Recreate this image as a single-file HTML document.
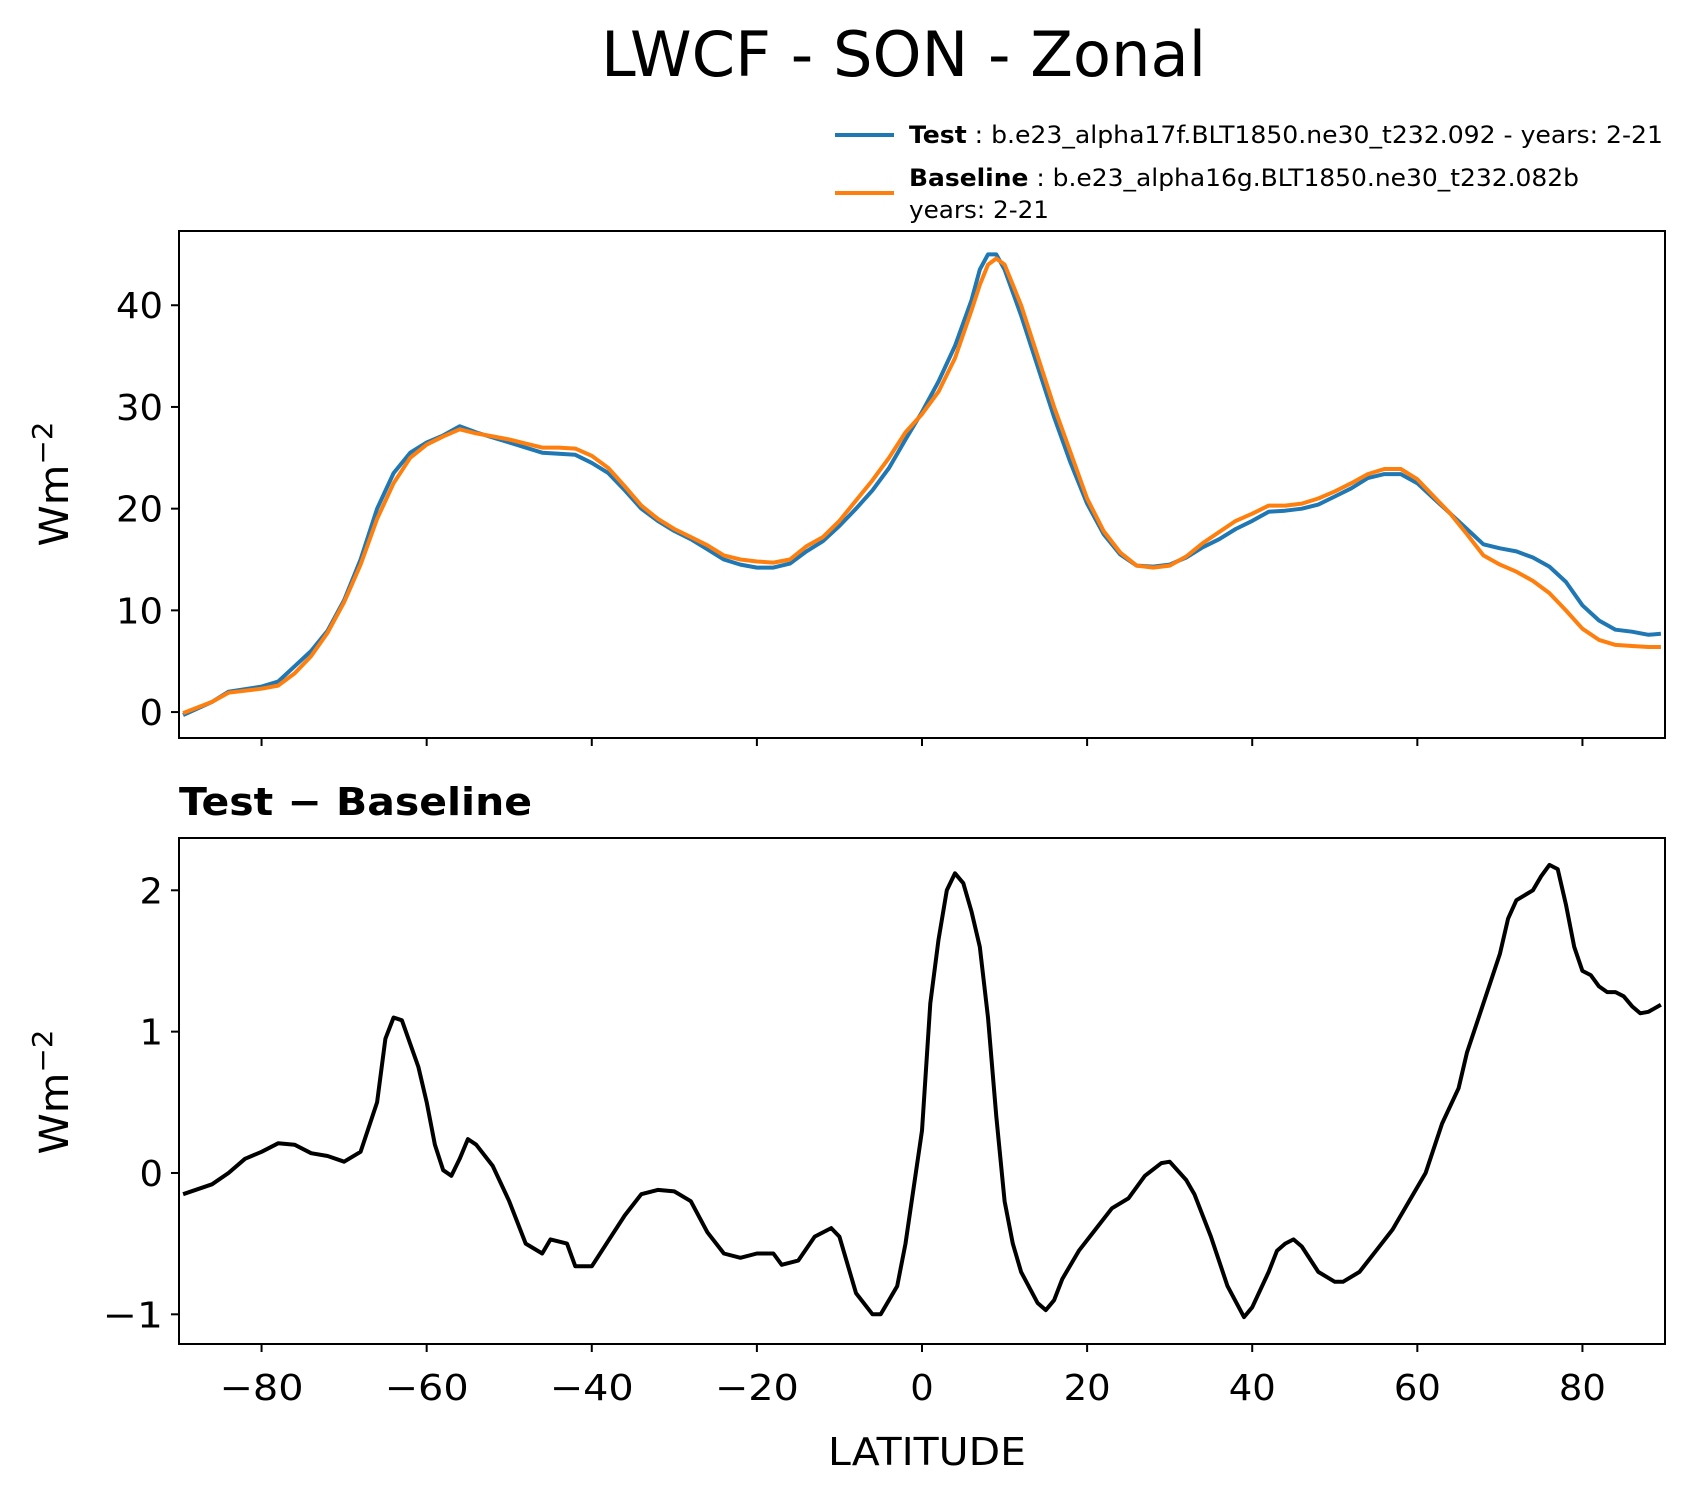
<!DOCTYPE html>
<html><head><meta charset="utf-8"><style>
body{margin:0;background:#fff}
svg text{font-family:"DejaVu Sans","Liberation Sans",sans-serif;fill:#000}
</style></head><body>
<svg id="fig" width="1696" height="1496" viewBox="0 0 1696 1496" xmlns="http://www.w3.org/2000/svg">
<rect width="1696" height="1496" fill="#fff"/>
<text x="601" y="76" font-size="62" textLength="605" lengthAdjust="spacingAndGlyphs">LWCF - SON - Zonal</text>
<g>
<line x1="835" y1="135" x2="894" y2="135" stroke="#1f77b4" stroke-width="4"/>
<text x="909" y="143" font-size="24" textLength="754" lengthAdjust="spacingAndGlyphs"><tspan font-weight="bold">Test</tspan> : b.e23_alpha17f.BLT1850.ne30_t232.092 - years: 2-21</text>
<line x1="835" y1="193" x2="894" y2="193" stroke="#ff7f0e" stroke-width="4"/>
<text x="909" y="186" font-size="24" textLength="670" lengthAdjust="spacingAndGlyphs"><tspan font-weight="bold">Baseline</tspan> : b.e23_alpha16g.BLT1850.ne30_t232.082b</text>
<text x="909" y="218" font-size="24" textLength="140" lengthAdjust="spacingAndGlyphs">years: 2-21</text>
</g>
<g id="top"></g>
<g id="bot"></g>
<text transform="translate(68,484) rotate(-90)" font-size="40" text-anchor="middle" textLength="125" lengthAdjust="spacingAndGlyphs">Wm<tspan dy="-16" font-size="28">−2</tspan></text>
<text transform="translate(68,1092) rotate(-90)" font-size="40" text-anchor="middle" textLength="125" lengthAdjust="spacingAndGlyphs">Wm<tspan dy="-16" font-size="28">−2</tspan></text>
<text x="179" y="815" font-size="38" font-weight="bold" textLength="353" lengthAdjust="spacingAndGlyphs">Test − Baseline</text>
<text x="828" y="1465" font-size="38" textLength="198" lengthAdjust="spacingAndGlyphs">LATITUDE</text>
</svg>
<script>
const testLat=[-89.5,-86,-84,-80,-78,-76,-74,-72,-70,-68,-66,-64,-62,-60,-58,-56,-54,-52,-50,-48,-46,-44,-42,-40,-38,-36,-34,-32,-30,-28,-26,-24,-22,-20,-18,-16,-14,-12,-10,-8,-6,-4,-2,0,2,4,6,7,8,9,10,12,14,16,18,20,22,24,26,28,30,32,34,36,38,40,42,44,46,48,50,52,54,56,58,60,62,64,66,68,70,72,74,76,78,80,82,84,86,88,89.5];
const testVals=[-0.3,1,2,2.5,3,4.5,6,8,11,15,20,23.5,25.5,26.5,27.2,28.1,27.5,27,26.5,26,25.5,25.4,25.3,24.5,23.5,21.8,20,18.8,17.8,17,16,15,14.5,14.2,14.2,14.6,15.8,16.8,18.3,20,21.8,24,26.8,29.5,32.5,36,40.5,43.5,45,45,43.5,39,34,29,24.5,20.5,17.5,15.5,14.4,14.3,14.5,15.2,16.2,17,18,18.8,19.7,19.8,20,20.4,21.2,22,23,23.4,23.4,22.5,21,19.5,18,16.5,16.1,15.8,15.2,14.3,12.8,10.5,9,8.1,7.9,7.6,7.7];
const baseLat=[-89.5,-86,-84,-80,-78,-76,-74,-72,-70,-68,-66,-64,-62,-60,-58,-56,-54,-52,-50,-48,-46,-44,-42,-40,-38,-36,-34,-32,-30,-28,-26,-24,-22,-20,-18,-16,-14,-12,-10,-8,-6,-4,-2,0,2,4,6,7,8,9,10,12,14,16,18,20,22,24,26,28,30,32,34,36,38,40,42,44,46,48,50,52,54,56,58,60,62,64,66,68,70,72,74,76,78,80,82,84,86,88,89.5];
const baseVals=[-0.1,1,1.9,2.3,2.6,3.8,5.5,7.8,10.8,14.5,19,22.5,25,26.3,27.1,27.8,27.4,27.1,26.8,26.4,26,26,25.9,25.2,24,22.2,20.3,19,18,17.2,16.4,15.4,15,14.8,14.7,15,16.3,17.2,18.8,20.8,22.8,25,27.5,29.3,31.5,34.8,39.5,42,44,44.6,44,40,35,30,25.5,21,17.8,15.7,14.4,14.2,14.4,15.3,16.6,17.7,18.8,19.5,20.3,20.3,20.5,21,21.7,22.5,23.4,23.9,23.9,22.9,21.2,19.5,17.5,15.4,14.5,13.8,12.9,11.7,10,8.2,7.1,6.6,6.5,6.4,6.4];
const diffLat=[-89.5,-86,-84,-82,-80,-78,-76,-74,-72,-70,-68,-66,-65,-64,-63,-61,-60,-59,-58,-57,-56,-55,-54,-52,-50,-48,-46,-45,-43,-42,-40,-38,-36,-34,-32,-30,-28,-26,-24,-22,-20,-18,-17,-15,-13,-11,-10,-8,-6,-5,-3,-2,0,1,2,3,4,5,6,7,8,9,10,11,12,14,15,16,17,19,21,23,25,27,29,30,32,33,35,37,39,40,42,43,44,45,46,48,50,51,53,55,57,59,61,63,65,66,68,70,71,72,74,75,76,77,78,79,80,81,82,83,84,85,86,87,88,89.5];
const diffVals=[-0.15,-0.08,0,0.1,0.15,0.21,0.2,0.14,0.12,0.08,0.15,0.5,0.95,1.1,1.08,0.75,0.5,0.2,0.02,-0.02,0.1,0.24,0.2,0.05,-0.2,-0.5,-0.57,-0.47,-0.5,-0.66,-0.66,-0.48,-0.3,-0.15,-0.12,-0.13,-0.2,-0.42,-0.57,-0.6,-0.57,-0.57,-0.65,-0.62,-0.45,-0.39,-0.45,-0.85,-1.0,-1.0,-0.8,-0.5,0.3,1.2,1.65,2.0,2.12,2.05,1.85,1.6,1.1,0.4,-0.2,-0.5,-0.7,-0.92,-0.97,-0.9,-0.75,-0.55,-0.4,-0.25,-0.18,-0.02,0.07,0.08,-0.05,-0.15,-0.45,-0.8,-1.02,-0.95,-0.7,-0.55,-0.5,-0.47,-0.52,-0.7,-0.77,-0.77,-0.7,-0.55,-0.4,-0.2,0.0,0.35,0.6,0.85,1.2,1.55,1.8,1.93,2.0,2.1,2.18,2.15,1.9,1.6,1.43,1.4,1.32,1.28,1.28,1.25,1.18,1.13,1.14,1.19];
const xTicks=[-80,-60,-40,-20,0,20,40,60,80];
const topTicks=[0,10,20,30,40];
const botTicks=[2,1,0,-1];
const NS="http://www.w3.org/2000/svg";
const L=179,R=1665;
function xs(v){return L+(v+90)/180*(R-L);}
function mk(t,a,p){const e=document.createElementNS(NS,t);for(const k in a)e.setAttribute(k,a[k]);p.appendChild(e);return e;}
function lab(t){return t<0?'−'+(-t):String(t);}
function lw(t){const s=String(Math.abs(t));return s.length*23.5+(t<0?37:0);}
function panel(g,top,bot,ymin,ymax,yticks,series,showX){
  const ys=v=>bot-(v-ymin)/(ymax-ymin)*(bot-top);
  for(const s of series){
    const p=mk('polyline',{points:s.lat.map((x,i)=>xs(x).toFixed(1)+','+ys(s.v[i]).toFixed(1)).join(' '),fill:'none',stroke:s.c,'stroke-width':4,'stroke-linejoin':'round'},g);
    
    
  }
  const fr=mk('rect',{x:L,y:top,width:R-L,height:bot-top,fill:'none',stroke:'#000','stroke-width':2},g);
  
  
  for(const t of yticks){
    const y=ys(t);
    const tk=mk('line',{x1:L-8,x2:L,y1:y,y2:y,stroke:'#000','stroke-width':2},g);
    
    
    const w=lw(t);
    const tx=mk('text',{x:L-16-w,y:y+13,'font-size':36,textLength:w,lengthAdjust:'spacingAndGlyphs'},g);
    tx.textContent=lab(t);
    
    
  }
  for(const t of xTicks){
    const x=xs(t);
    const tk=mk('line',{x1:x,x2:x,y1:bot,y2:bot+8,stroke:'#000','stroke-width':2},g);
    
    
    if(showX){
      const w=lw(t);
      const tx=mk('text',{x:x-w/2,y:bot+56,'font-size':36,textLength:w,lengthAdjust:'spacingAndGlyphs'},g);
      tx.textContent=lab(t);
      
      
    }
  }
}
panel(document.getElementById('top'),231,738,-2.55,47.3,topTicks,[
 {lat:testLat,v:testVals,c:'#1f77b4',name:'test-line'},
 {lat:baseLat,v:baseVals,c:'#ff7f0e',name:'baseline-line'}],false);
panel(document.getElementById('bot'),838,1344,-1.21,2.37,botTicks,[
 {lat:diffLat,v:diffVals,c:'#000',name:'difference-line'}],true);
</script>
</body></html>
